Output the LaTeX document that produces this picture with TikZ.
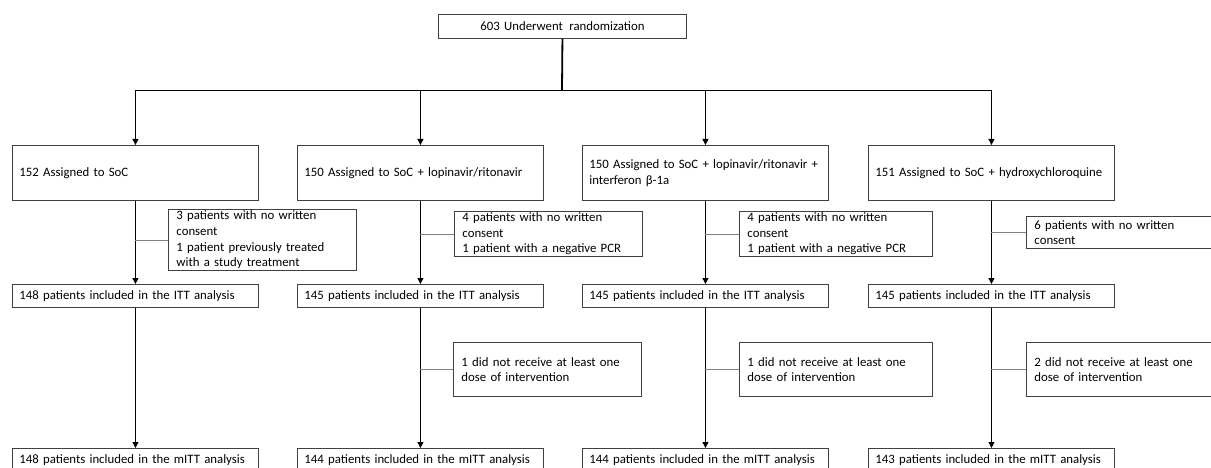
\documentclass[tikz,border=0pt]{standalone}
\usepackage{fontspec}
\setmainfont{Carlito}
\usepackage{tikz}
\usetikzlibrary{arrows.meta}
\definecolor{boxgray}{gray}{0.25}
\definecolor{sidegray}{gray}{0.50}

\begin{document}
\begin{tikzpicture}[
  x=1pt,y=-1pt,
  box/.style={draw=boxgray,line width=0.9pt,anchor=north west,align=left,inner xsep=7pt,inner ysep=1pt,font=\fontsize{12.8}{15.6}\selectfont},
  armbox/.style={box,text width=232pt,minimum height=55pt},
  countbox/.style={box,text width=232pt,minimum height=23pt},
  exclbox/.style={box,inner xsep=8pt,text width=172pt},
  link/.style={draw=black,line width=0.9pt},
  trunk/.style={draw=black,line width=1.8pt},
  arr/.style={-{Triangle[length=6pt,width=6pt]},draw=black,line width=0.9pt},
  side/.style={draw=sidegray,line width=0.9pt}
]
\useasboundingbox (0,0) rectangle (1211,468);

\node[box,text width=234pt,minimum height=24pt,align=center] (rand) at (438,14) {603 Underwent\enspace randomization};
\coordinate (bus) at (562,90);

\node[armbox] (arm1) at (12,145) {152 Assigned to SoC};
\node[armbox] (arm2) at (297,145) {150 Assigned to SoC + lopinavir/ritonavir};
\node[armbox] (arm3) at (582,145) {\mbox{150 Assigned to SoC + lopinavir/ritonavir +}\\interferon β-1a};
\node[armbox] (arm4) at (868,145) {151 Assigned to SoC + hydroxychloroquine};

\node[exclbox,minimum height=61pt] (exA1) at (168,209)
  {3 patients with no written\\consent\\1 patient previously treated\\with a study treatment};
\node[exclbox,minimum height=45pt] (exA2) at (454,211)
  {4 patients with no written\\consent\\1 patient with a negative PCR};
\node[exclbox,text width=177pt,minimum height=45pt] (exA3) at (739,211)
  {4 patients with no written\\consent\\1 patient with a negative PCR};
\node[exclbox,text width=190pt,minimum height=32pt] (exA4) at (1026,216)
  {6 patients with no written\\consent};

\node[countbox] (itt1) at (12,284) {148 patients included in the ITT analysis};
\node[countbox] (itt2) at (297,284) {145 patients included in the ITT analysis};
\node[countbox] (itt3) at (582,284) {145 patients included in the ITT analysis};
\node[countbox] (itt4) at (868,284) {145 patients included in the ITT analysis};

\node[exclbox,minimum height=54pt] (exB2) at (453,342)
  {1 did not receive at least one\\dose of intervention};
\node[exclbox,text width=177pt,minimum height=54pt] (exB3) at (739,342)
  {1 did not receive at least one\\dose of intervention};
\node[exclbox,text width=190pt,minimum height=54pt] (exB4) at (1026,342)
  {2 did not receive at least one\\dose of intervention};

\node[countbox] (mitt1) at (12,448) {148 patients included in the mITT analysis};
\node[countbox] (mitt2) at (297,448) {144 patients included in the mITT analysis};
\node[countbox] (mitt3) at (582,448) {144 patients included in the mITT analysis};
\node[countbox] (mitt4) at (868,448) {143 patients included in the mITT analysis};

% randomization split
\draw[trunk] (rand.south) -- (bus);
\draw[link] (arm1.north |- bus) -- (arm4.north |- bus);
\draw[arr] (arm1.north |- bus) -- (arm1.north);
\draw[arr] (arm2.north |- bus) -- (arm2.north);
\draw[arr] (arm3.north |- bus) -- (arm3.north);
\draw[arr] (arm4.north |- bus) -- (arm4.north);

% arms to ITT
\draw[arr] (arm1.south) -- (itt1.north);
\draw[arr] (arm2.south) -- (itt2.north);
\draw[arr] (arm3.south) -- (itt3.north);
\draw[arr] (arm4.south) -- (itt4.north);
\draw[side] (arm1.south |- exA1.west) -- (exA1.west);
\draw[side] (arm2.south |- exA2.west) -- (exA2.west);
\draw[side] (arm3.south |- exA3.west) -- (exA3.west);
\draw[side] (arm4.south |- exA4.west) -- (exA4.west);

% ITT to mITT
\draw[arr] (itt1.south) -- (mitt1.north);
\draw[arr] (itt2.south) -- (mitt2.north);
\draw[arr] (itt3.south) -- (mitt3.north);
\draw[arr] (itt4.south) -- (mitt4.north);
\draw[side] (itt2.south |- exB2.west) -- (exB2.west);
\draw[side] (itt3.south |- exB3.west) -- (exB3.west);
\draw[side] (itt4.south |- exB4.west) -- (exB4.west);
\end{tikzpicture}
\end{document}
